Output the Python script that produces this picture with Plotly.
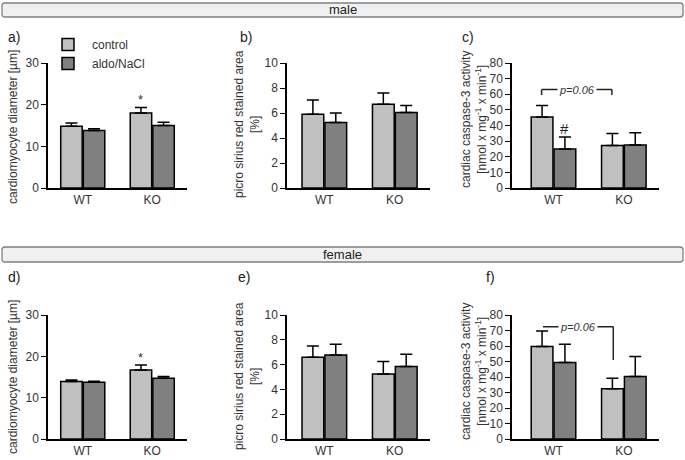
import plotly.graph_objects as go

W, H = 685, 460

groups = ["WT", "KO"]

# male panels
a_ctrl = [14.8, 18.0]
a_ctrl_err = [0.8, 1.35]
a_aldo = [13.8, 15.0]
a_aldo_err = [0.4, 0.8]

b_ctrl = [5.9, 6.7]
b_ctrl_err = [1.15, 0.9]
b_aldo = [5.25, 6.05]
b_aldo_err = [0.75, 0.55]

c_ctrl = [45.5, 27.2]
c_ctrl_err = [7.3, 7.7]
c_aldo = [25.0, 27.6]
c_aldo_err = [7.6, 7.7]

# female panels
d_ctrl = [13.9, 16.7]
d_ctrl_err = [0.4, 1.2]
d_aldo = [13.7, 14.7]
d_aldo_err = [0.3, 0.4]

e_ctrl = [6.6, 5.25]
e_ctrl_err = [0.9, 1.0]
e_aldo = [6.78, 5.84]
e_aldo_err = [0.86, 1.0]

f_ctrl = [59.6, 32.4]
f_ctrl_err = [10.1, 6.8]
f_aldo = [49.3, 40.3]
f_aldo_err = [11.8, 12.9]

CTRL = "#c0c0c0"
ALDO = "#808080"
FONT = "Liberation Sans, Arial, sans-serif"
TXT = "#333333"


def px_x(p):
    return p / W


def px_y(p):
    return 1 - p / H


fig = go.Figure()

panels = [
    # (ctrl, ctrl_err, aldo, aldo_err, axis suffix, legend)
    (a_ctrl, a_ctrl_err, a_aldo, a_aldo_err, "", True),
    (b_ctrl, b_ctrl_err, b_aldo, b_aldo_err, "2", False),
    (c_ctrl, c_ctrl_err, c_aldo, c_aldo_err, "3", False),
    (d_ctrl, d_ctrl_err, d_aldo, d_aldo_err, "4", False),
    (e_ctrl, e_ctrl_err, e_aldo, e_aldo_err, "5", False),
    (f_ctrl, f_ctrl_err, f_aldo, f_aldo_err, "6", False),
]

for ctrl, ctrl_err, aldo, aldo_err, sfx, leg in panels:
    for name, vals, errs, col in [("control", ctrl, ctrl_err, CTRL),
                                  ("aldo/NaCl", aldo, aldo_err, ALDO)]:
        fig.add_trace(go.Bar(
            x=groups, y=vals, name=name, showlegend=leg,
            marker=dict(color=col, line=dict(color="black", width=1.5)),
            error_y=dict(type="data", array=errs, symmetric=False,
                         arrayminus=[0, 0], color="black", thickness=1.5, width=6),
            xaxis="x" + sfx, yaxis="y" + sfx,
        ))

# axis geometry in pixels
xdom = {"": (48, 187), "2": (287, 430), "3": (512, 659)}
xrng = {"": [-0.5, 1.5], "2": [-0.53, 1.5], "3": [-0.59, 1.5]}
ymax = {"": 30, "2": 10, "3": 80}
ydt = {"": 10, "2": 2, "3": 10}
top_y = (63, 188)
bot_y = (315, 439)

layout = {}
for i, sfx in enumerate(["", "2", "3", "4", "5", "6"]):
    col = ["", "2", "3"][i % 3]
    ys = top_y if i < 3 else bot_y
    xd = xdom[col]
    layout["xaxis" + sfx] = dict(
        domain=[px_x(xd[0]), px_x(xd[1])], anchor="y" + sfx, automargin=False,
        range=xrng[col], showline=True, linecolor="black", linewidth=1.5,
        ticks="", showgrid=False, zeroline=False, fixedrange=True,
        tickfont=dict(family=FONT, size=12, color=TXT),
    )
    layout["yaxis" + sfx] = dict(
        domain=[px_y(ys[1]), px_y(ys[0])], anchor="x" + sfx, automargin=False,
        range=[0, ymax[col]], dtick=ydt[col], showline=True, linecolor="black",
        linewidth=1.5, ticks="outside", ticklen=5, tickwidth=1.2, tickcolor="black",
        showgrid=False, zeroline=False,
        tickfont=dict(family=FONT, size=12, color=TXT),
    )

fig.update_layout(template="none", **layout)

# header bars
shapes = []
annotations = []


def note(text, x, y, xref="paper", yref="paper", size=12, **kw):
    d = dict(text=text, x=x, y=y, xref=xref, yref=yref, showarrow=False,
             xanchor="center", yanchor="middle",
             font=dict(family=FONT, size=size, color=TXT))
    d.update(kw)
    annotations.append(d)


def header(y0, y1, label):
    x0, x1, r = 2, 683, 3
    path = (f"M {px_x(x0 + r)},{px_y(y0)} L {px_x(x1 - r)},{px_y(y0)} "
            f"Q {px_x(x1)},{px_y(y0)} {px_x(x1)},{px_y(y0 + r)} "
            f"L {px_x(x1)},{px_y(y1 - r)} Q {px_x(x1)},{px_y(y1)} {px_x(x1 - r)},{px_y(y1)} "
            f"L {px_x(x0 + r)},{px_y(y1)} Q {px_x(x0)},{px_y(y1)} {px_x(x0)},{px_y(y1 - r)} "
            f"L {px_x(x0)},{px_y(y0 + r)} Q {px_x(x0)},{px_y(y0)} {px_x(x0 + r)},{px_y(y0)} Z")
    shapes.append(dict(type="path", path=path, xref="paper", yref="paper",
                       fillcolor="#f0f0f0", line=dict(color="#808080", width=1.3)))
    note(label, 0.5, px_y((y0 + y1) / 2) + 0.001, size=13,
         font=dict(family="Liberation Sans Narrow, " + FONT, size=13, color="#222"))


header(3, 17, "male")
header(247, 262, "female")

# panel letters
for lab, x, y in [("a)", 14, 37), ("b)", 246, 37), ("c)", 468, 37),
                  ("d)", 14, 277), ("e)", 244, 277), ("f)", 490, 277)]:
    note(lab, px_x(x), px_y(y), font=dict(family=FONT, size=14, color="#222"))

# y axis titles
ytitles = [
    ("cardiomyocyte diameter [µm]", 13, 127),
    ("picro sirius red stained area<br>[%]", 247, 124),
    ("cardiac caspase-3 activity<br>[nmol x mg<sup>-1</sup> x min<sup>-1</sup>]", 474, 120),
    ("cardiomyocyte diameter [µm]", 13, 377),
    ("picro sirius red stained area<br>[%]", 247, 376),
    ("cardiac caspase-3 activity<br>[nmol x mg<sup>-1</sup> x min<sup>-1</sup>]", 474, 372),
]
for t, x, y in ytitles:
    note(t, px_x(x), px_y(y), textangle=-90)

# significance marks
note("*", 1 - 0.1625, 21.2, xref="x", yref="y", size=13)
note("*", 1 - 0.1625, 19.8, xref="x4", yref="y4", size=13)
note("#", 0.1625, 38, xref="x3", yref="y3", font=dict(family=FONT, size=15, color="#222"))

# p-value brackets
blk = dict(color="#222", width=1.5)
shapes += [
    dict(type="line", xref="x3", yref="y3", x0=-0.17, x1=0.83, y0=63, y1=63, line=blk),
    dict(type="line", xref="x3", yref="y3", x0=-0.17, x1=-0.17, y0=63, y1=59.5, line=blk),
    dict(type="line", xref="x3", yref="y3", x0=0.83, x1=0.83, y0=63, y1=59.5, line=blk),
    dict(type="line", xref="x6", yref="y6", x0=-0.15, x1=0.85, y0=72.5, y1=72.5, line=blk),
    dict(type="line", xref="x6", yref="y6", x0=0.85, x1=0.85, y0=72.5, y1=51, line=blk),
]
note("<i>p=0.06</i>", 0.33, 63, xref="x3", yref="y3", size=11, bgcolor="white", borderpad=1)
note("<i>p=0.06</i>", 0.35, 72.5, xref="x6", yref="y6", size=11, bgcolor="white", borderpad=1)

fig.update_layout(
    width=W, height=H, margin=dict(l=0, r=0, t=0, b=0),
    paper_bgcolor="white", plot_bgcolor="white",
    barmode="group", bargap=0.35, bargroupgap=0.05,
    shapes=shapes, annotations=annotations,
    legend=dict(x=px_x(44), y=px_y(30), xanchor="left", yanchor="top",
                bgcolor="rgba(0,0,0,0)", tracegroupgap=0, itemwidth=38,
                font=dict(family=FONT, size=12, color=TXT)),
)

# the page's default body margin would push the 685x460 figure out of the window
fig.write_html("out.html", config={"displayModeBar": False},
               post_script="document.body.style.margin = '0';")
